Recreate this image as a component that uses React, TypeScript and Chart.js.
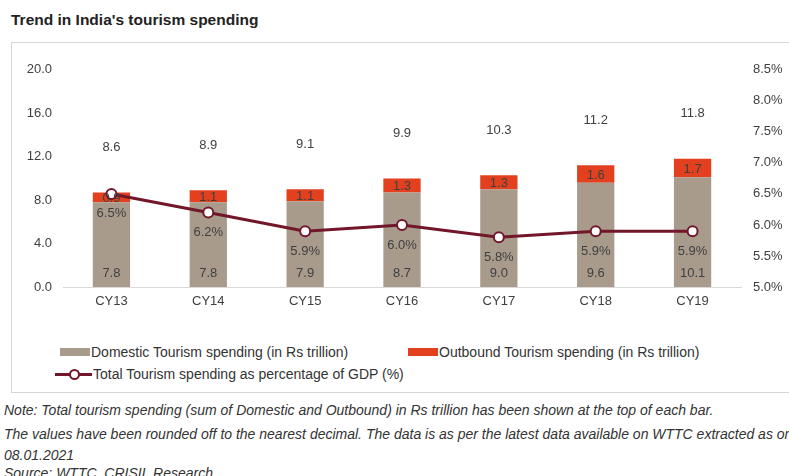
import React, { useEffect, useRef } from "react";
import { Chart, registerables } from "chart.js";

Chart.register(...registerables);

const categories = ["CY13", "CY14", "CY15", "CY16", "CY17", "CY18", "CY19"];
const domestic = [7.8, 7.8, 7.9, 8.7, 9.0, 9.6, 10.1];
const outbound = [0.9, 1.1, 1.1, 1.3, 1.3, 1.6, 1.7];
const totals = [8.6, 8.9, 9.1, 9.9, 10.3, 11.2, 11.8];
const gdpShare = [6.5, 6.2, 5.9, 6.0, 5.8, 5.9, 5.9];

const leftTicks = { min: 0, max: 20, step: 4 };
const rightTicks = { min: 5, max: 8.5, step: 0.5 };

const DOM_COLOR = "#A89B8C";
const OUT_COLOR = "#E2401E";
const LINE_COLOR = "#72172A";
const TEXT = "#404040";
const FONT = "Liberation Sans, Arial, sans-serif";

const labelPlugin = {
  id: "valueLabels",
  afterDatasetsDraw(chart: any) {
    const ctx = chart.ctx;
    ctx.save();
    ctx.font = `13px ${FONT}`;
    ctx.fillStyle = TEXT;
    ctx.textAlign = "center";
    ctx.textBaseline = "middle";
    const domMeta = chart.getDatasetMeta(0);
    const outMeta = chart.getDatasetMeta(1);
    const lineMeta = chart.getDatasetMeta(2);
    const yL = chart.scales.y;
    domMeta.data.forEach((bar: any, i: number) => {
      const x = bar.x;
      ctx.fillText(domestic[i].toFixed(1), x, yL.getPixelForValue(0) - 14);
      const ob = outMeta.data[i];
      ctx.fillText(outbound[i].toFixed(1), x, (ob.y + ob.base) / 2 + 1);
      ctx.fillText(totals[i].toFixed(1), x, ob.y - 45);
      const pt = lineMeta.data[i];
      ctx.fillText(gdpShare[i].toFixed(1) + "%", pt.x, pt.y + 20);
    });
    ctx.restore();
  },
};

export default function App() {
  const ref = useRef<HTMLCanvasElement>(null);
  useEffect(() => {
    if (!ref.current) return;
    const chart = new Chart(ref.current, {
      type: "bar",
      data: {
        labels: categories,
        datasets: [
          {
            type: "bar",
            label: "Domestic Tourism spending (in Rs trillion)",
            data: domestic,
            backgroundColor: DOM_COLOR,
            stack: "s",
            yAxisID: "y",
            barPercentage: 0.385,
            categoryPercentage: 1,
            order: 2,
          },
          {
            type: "bar",
            label: "Outbound Tourism spending (in Rs trillion)",
            data: outbound,
            backgroundColor: OUT_COLOR,
            stack: "s",
            yAxisID: "y",
            barPercentage: 0.385,
            categoryPercentage: 1,
            order: 2,
          },
          {
            type: "line",
            label: "Total Tourism spending as percentage of GDP (%)",
            data: gdpShare,
            borderColor: LINE_COLOR,
            borderWidth: 3,
            pointBackgroundColor: "#ffffff",
            pointBorderColor: LINE_COLOR,
            pointBorderWidth: 2,
            pointRadius: 5,
            yAxisID: "y2",
            order: 1,
          } as any,
        ],
      },
      options: {
        animation: false,
        responsive: false,
        maintainAspectRatio: false,
        layout: { padding: { top: 15, bottom: 0, left: 0, right: 0 } },
        plugins: {
          legend: { display: false },
          tooltip: { enabled: false },
          title: { display: false },
        },
        scales: {
          x: {
            stacked: true,
            grid: { display: false, drawTicks: false },
            border: { display: true, color: "#d9d9d9", width: 1 },
            ticks: { color: TEXT, font: { family: FONT, size: 13 }, padding: 7 },
            afterFit: (s: any) => {
              s.height = 33;
            },
          },
          y: {
            stacked: true,
            position: "left",
            min: leftTicks.min,
            max: leftTicks.max,
            grid: { display: false, drawTicks: false },
            border: { display: false },
            ticks: {
              stepSize: leftTicks.step,
              color: TEXT,
              font: { family: FONT, size: 13 },
              padding: 11,
              callback: (v: any) => Number(v).toFixed(1),
            },
            afterFit: (s: any) => {
              s.width = 52;
            },
          },
          y2: {
            position: "right",
            min: rightTicks.min,
            max: rightTicks.max,
            grid: { display: false, drawTicks: false },
            border: { display: false },
            ticks: {
              stepSize: rightTicks.step,
              color: TEXT,
              font: { family: FONT, size: 13 },
              padding: 12,
              callback: (v: any) => Number(v).toFixed(1) + "%",
            },
            afterFit: (s: any) => {
              s.width = 48;
            },
          },
        },
      },
      plugins: [labelPlugin],
    });
    return () => chart.destroy();
  }, []);

  const legendText: React.CSSProperties = {
    position: "absolute",
    fontFamily: FONT,
    fontSize: 14,
    color: "#333",
    whiteSpace: "nowrap",
    lineHeight: "16px",
  };
  const noteStyle: React.CSSProperties = {
    position: "absolute",
    left: 4,
    fontFamily: FONT,
    fontStyle: "italic",
    fontSize: 14,
    color: "#333",
    whiteSpace: "nowrap",
    lineHeight: "16px",
  };

  return (
    <div
      style={{
        position: "absolute",
        left: 0,
        top: 0,
        width: 789,
        height: 476,
        overflow: "hidden",
        background: "#fff",
      }}
    >
      <div
        style={{
          position: "absolute",
          left: 11,
          top: 11,
          fontFamily: FONT,
          fontWeight: "bold",
          fontSize: 15.5,
          lineHeight: "18px",
          color: "#222",
          whiteSpace: "nowrap",
        }}
      >
        Trend in India's tourism spending
      </div>
      <div
        style={{
          position: "absolute",
          left: 11,
          top: 42,
          width: 800,
          height: 351,
          border: "1px solid #d6d6d6",
          boxSizing: "border-box",
        }}
      />
      <canvas
        ref={ref}
        width={778}
        height={270}
        style={{ position: "absolute", left: 11, top: 50, width: 778, height: 270 }}
      />
      {/* legend */}
      <div style={{ position: "absolute", left: 60, top: 348, width: 30, height: 8, background: DOM_COLOR }} />
      <div style={{ ...legendText, left: 91, top: 344 }}>Domestic Tourism spending (in Rs trillion)</div>
      <div style={{ position: "absolute", left: 408, top: 348, width: 30, height: 8, background: OUT_COLOR }} />
      <div style={{ ...legendText, left: 439, top: 344 }}>Outbound Tourism spending (in Rs trillion)</div>
      <div style={{ position: "absolute", left: 55, top: 373, width: 37, height: 3, background: LINE_COLOR }} />
      <div
        style={{
          position: "absolute",
          left: 69,
          top: 369,
          width: 7,
          height: 7,
          borderRadius: "50%",
          border: `2px solid ${LINE_COLOR}`,
          background: "#fff",
        }}
      />
      <div style={{ ...legendText, left: 93, top: 366 }}>Total Tourism spending as percentage of GDP (%)</div>
      {/* notes */}
      <div style={{ ...noteStyle, top: 402 }}>
        Note: Total tourism spending (sum of Domestic and Outbound) in Rs trillion has been shown at the top of each bar.
      </div>
      <div style={{ ...noteStyle, top: 426 }}>
        The values have been rounded off to the nearest decimal. The data is as per the latest data available on WTTC extracted as on
      </div>
      <div style={{ ...noteStyle, top: 447 }}>08.01.2021</div>
      <div style={{ ...noteStyle, top: 465 }}>Source: WTTC, CRISIL Research</div>
    </div>
  );
}
